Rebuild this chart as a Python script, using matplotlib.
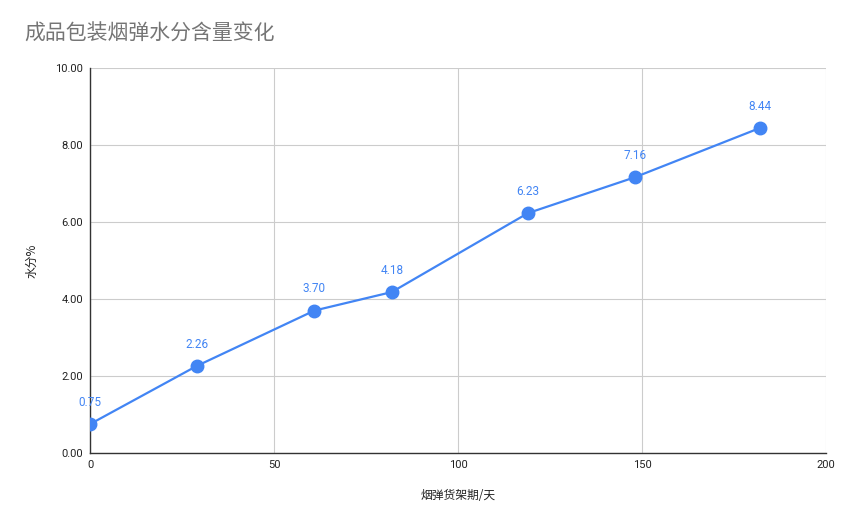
import matplotlib.pyplot as plt

plt.rcParams['font.family'] = ['Noto Sans CJK SC', 'DejaVu Sans']

# data
days = [0, 29, 61, 82, 119, 148, 182]
moisture = [0.75, 2.26, 3.70, 4.18, 6.23, 7.16, 8.44]
x_ticks = [0, 50, 100, 150, 200]
y_ticks = [0, 2, 4, 6, 8, 10]

blue = '#4285f4'

fig = plt.figure(figsize=(8.48, 5.17), dpi=100)
ax = fig.add_axes([90 / 848, 1 - 453 / 517, 736 / 848, 385 / 517])

ax.plot(days, moisture, color=blue, linewidth=1.6, marker='o', markersize=9, zorder=3)
for d, m in zip(days, moisture):
    ax.annotate(f'{m:.2f}', (d, m), xytext=(0, 11), textcoords='offset points',
                ha='center', va='bottom', color=blue, fontsize=8.5, family='Roboto',
                annotation_clip=False, clip_on=False)

ax.set_xlim(0, 200)
ax.set_ylim(0, 10)
ax.set_xticks(x_ticks)
ax.set_yticks(y_ticks)
ax.set_yticklabels([f'{v:.2f}' for v in y_ticks])
ax.tick_params(length=0, labelsize=8, colors='#222222', pad=5)
for lab in ax.get_xticklabels() + ax.get_yticklabels():
    lab.set_family('Roboto')
ax.grid(True, color='#cccccc', linewidth=0.8)
ax.set_axisbelow(True)

for s in ['top', 'right']:
    ax.spines[s].set_visible(False)
ax.spines['left'].set_color('#333333')
ax.spines['bottom'].set_color('#333333')
ax.spines['left'].set_linewidth(1.0)
ax.spines['bottom'].set_linewidth(1.0)

ax.set_xlabel('烟弹货架期/天', fontsize=8.5, color='#222222', labelpad=14)
ax.set_ylabel('水分%', fontsize=8.5, color='#222222', labelpad=12)

fig.text(24 / 848, 1 - 34 / 517, '成品包装烟弹水分含量变化', fontsize=15,
         color='#757575', va='center', ha='left')

fig.savefig('out.png', dpi=100)
